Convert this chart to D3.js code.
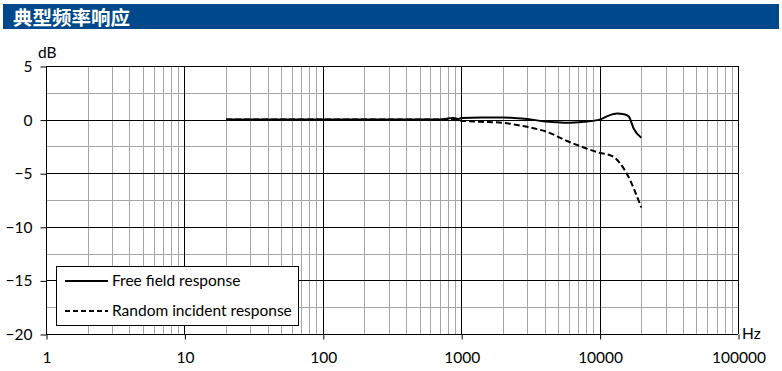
<!DOCTYPE html>
<html><head><meta charset="utf-8">
<script src="https://cdn.jsdelivr.net/npm/d3@7"></script>
<style>body{margin:0;background:#fff;} svg{display:block;}</style>
</head><body>
<script>
const titleText = "典型频率响应";
const xTicks = [1, 10, 100, 1000, 10000, 100000];
const yTicks = [5, 0, -5, -10, -15, -20];
const seriesNames = ["Free field response", "Random incident response"];
const freeFreq = [20, 100, 500, 700, 800, 880, 950, 1000, 1400, 2000, 2400, 3000, 3940, 5000, 5820, 7680, 10000, 11500, 13400, 15000, 16250, 17650, 20000];
const freeDb =   [0, 0, 0, 0.02, 0.1, 0.15, 0.05, 0.15, 0.2, 0.2, 0.15, 0.05, -0.15, -0.25, -0.3, -0.2, 0, 0.35, 0.56, 0.5, 0.3, -0.85, -1.7];
const randFreq = [20, 100, 500, 800, 900, 1000, 1370, 2020, 2530, 3330, 4170, 5820, 7680, 10000, 12350, 15800, 20000];
const randDb =   [0, 0, 0, 0, 0, -0.1, -0.2, -0.3, -0.5, -0.8, -1.15, -2.0, -2.6, -3.1, -3.4, -5.1, -8.2];

const W = 782, H = 371;
const svg = d3.select("body").append("svg").attr("width", W).attr("height", H);
const font = "Lato, 'Open Sans', sans-serif";

// title bar
svg.append("rect").attr("x", 3).attr("y", 4).attr("width", 776).attr("height", 25).attr("fill", "#00488c");
svg.append("text").attr("x", 13).attr("y", 24.5).text(titleText)
  .attr("fill", "#fff").attr("font-family", "'Noto Sans CJK SC', sans-serif")
  .attr("font-weight", "bold").attr("font-size", 19.5);

const x = d3.scaleLog().domain([1, 100000]).range([46, 738]);
const y = d3.scaleLinear().domain([-20, 5]).range([334, 66]);

const g = svg.append("g");
const minorX = [];
for (let d = 1; d < 100000; d *= 10) for (let k = 2; k <= 9; k++) minorX.push(d * k);
g.selectAll(".mx").data(minorX).enter().append("line")
  .attr("x1", d => Math.round(x(d)) + 0.5).attr("x2", d => Math.round(x(d)) + 0.5)
  .attr("y1", y(5)).attr("y2", y(-20)).attr("stroke", "#a6a6a6").attr("stroke-width", 1);
const minorY = d3.range(-17.5, 5, 5);
g.selectAll(".my").data(minorY).enter().append("line")
  .attr("x1", x(1)).attr("x2", x(100000))
  .attr("y1", d => Math.round(y(d)) + 0.5).attr("y2", d => Math.round(y(d)) + 0.5)
  .attr("stroke", "#a6a6a6").attr("stroke-width", 1);
g.selectAll(".Mx").data(xTicks).enter().append("line")
  .attr("x1", d => Math.round(x(d)) + 0.5).attr("x2", d => Math.round(x(d)) + 0.5)
  .attr("y1", y(5)).attr("y2", y(-20)).attr("stroke", "#000").attr("stroke-width", 1);
g.selectAll(".My").data(yTicks).enter().append("line")
  .attr("x1", x(1)).attr("x2", x(100000))
  .attr("y1", d => Math.round(y(d)) + 0.5).attr("y2", d => Math.round(y(d)) + 0.5)
  .attr("stroke", "#000").attr("stroke-width", 1);

const yAxis = d3.axisLeft(y).tickValues(yTicks).tickSize(6).tickPadding(8).tickFormat(d3.format("d"));
const ya = svg.append("g").attr("transform", `translate(${Math.round(x(1)) + 0.5},0.5)`).call(yAxis);
const xAxis = d3.axisBottom(x).tickValues(xTicks).tickSize(5).tickPadding(12).tickFormat(d3.format("d"));
const xa = svg.append("g").attr("transform", `translate(0.5,${Math.round(y(-20)) + 0.5})`).call(xAxis);
[ya, xa].forEach(a => {
  a.select(".domain").remove();
  a.selectAll("line").attr("stroke", "#000");
  a.selectAll("text").attr("font-family", font).attr("font-size", 15.5).attr("fill", "#000");
});

svg.append("text").attr("x", 38).attr("y", 58).text("dB").attr("font-family", font).attr("font-size", 15.5);
svg.append("text").attr("x", 742).attr("y", 339).text("Hz").attr("font-family", font).attr("font-size", 15.5);

const line = d3.line().x(d => x(d[0])).y(d => y(d[1])).curve(d3.curveMonotoneX);
svg.append("path").datum(randFreq.map((f, i) => [f, randDb[i]])).attr("d", line)
  .attr("fill", "none").attr("stroke", "#000").attr("stroke-width", 2).attr("stroke-dasharray", "6,3");
svg.append("path").datum(freeFreq.map((f, i) => [f, freeDb[i]])).attr("d", line)
  .attr("fill", "none").attr("stroke", "#000").attr("stroke-width", 2);

const lg = svg.append("g");
lg.append("rect").attr("x", 56.5).attr("y", 266.5).attr("width", 242).attr("height", 59)
  .attr("fill", "#fff").attr("stroke", "#000").attr("stroke-width", 1);
seriesNames.forEach((n, i) => {
  const yy = 281 + i * 30;
  lg.append("line").attr("x1", 65).attr("x2", 108).attr("y1", yy).attr("y2", yy)
    .attr("stroke", "#000").attr("stroke-width", 2).attr("stroke-dasharray", i ? "5,3" : null);
  lg.append("text").attr("x", 112).attr("y", yy + 5).text(n)
    .attr("font-family", font).attr("font-size", 15.5);
});
</script>
</body></html>
